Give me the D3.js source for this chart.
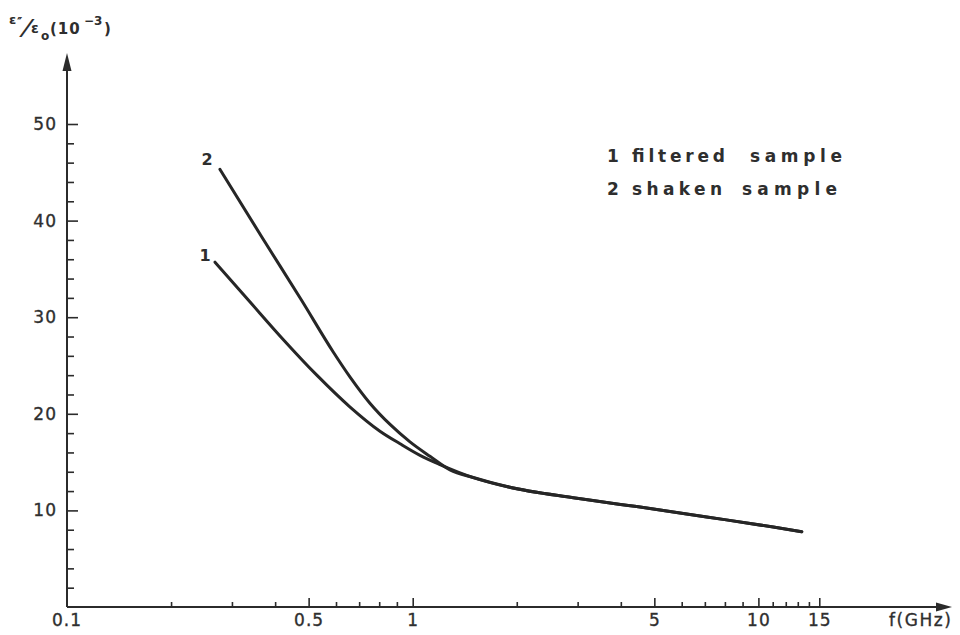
<!DOCTYPE html>
<html><head><meta charset="utf-8">
<script src="https://cdn.jsdelivr.net/npm/d3@7/dist/d3.min.js"></script>
<style>
body{margin:0;background:#fff}
text{font-family:"DejaVu Sans",Arial,Helvetica,sans-serif;fill:#2e2e2e}
</style>
</head><body>
<svg id="chart" width="960" height="635"></svg>
<script>
// ---- data ----
const freq1 = [0.268,0.338,0.422,0.528,0.659,0.804,0.919,1.050,1.199,1.497,1.870,2.914,4.546,7.087,11.04,13.35];
const eps1  = [35.7, 31.6, 27.7, 24.0, 20.7, 18.2, 16.9, 15.7, 14.75,13.4, 12.47,11.3, 10.35,9.32, 8.28, 7.8];
const freq2 = [0.277,0.366,0.478,0.589,0.659,0.752,0.860,0.982,1.122,1.282,1.497,1.870,2.914,4.546,7.087,11.04,13.35];
const eps2  = [45.3, 38.3, 31.7, 26.4, 23.8, 21.1, 18.9, 17.1, 15.6, 14.2, 13.4, 12.47,11.3, 10.35,9.32, 8.28, 7.8];
const seriesNames = ["1","2"];
const legendNumbers = ["1","2"];
const legendWords = [["filtered","sample"],["shaken","sample"]];
const xMajorTicks = [0.5,1,5,10,15];
const xMinorTicks = [0.2,0.3,0.4,0.6,0.7,0.8,0.9,2,3,4,6,7,8,9,11,12,13,14];
const xOriginLabel = "0.1";
const yMajorTicks = [10,20,30,40,50];
const yMinorTicks = [2,4,6,8,12,14,16,18,22,24,26,28,32,34,36,38,42,44,46,48];
const xTitle = "f(GHz)";

// ---- layout ----
const svg = d3.select("#chart");
const x = d3.scaleLog().domain([0.1, 10]).range([67, 758.4]);
const y = d3.scaleLinear().domain([0, 50]).range([607, 124]);
const ink = "#2b2b2b";
const x0 = x(0.1), y0 = y(0);

// axis lines with arrows
svg.append("line").attr("x1",x0).attr("x2",x0).attr("y1",y0).attr("y2",62)
  .attr("stroke",ink).attr("stroke-width",2);
svg.append("path").attr("d",`M${x0},53 L${x0-4.5},71 L${x0+4.5},71 Z`).attr("fill",ink);
svg.append("line").attr("x1",x0).attr("x2",944).attr("y1",y0).attr("y2",y0)
  .attr("stroke",ink).attr("stroke-width",2);
svg.append("path").attr("d",`M952,${y0} L936,${y0-4.5} L936,${y0+4.5} Z`).attr("fill",ink);

function styleLabels(sel){
  sel.attr("font-size",17).attr("letter-spacing",1)
    .attr("font-family","'DejaVu Sans',Arial,sans-serif")
    .attr("fill","#333").attr("stroke","#333").attr("stroke-width",0.35);
}

// y axis ticks
const gyMinor = svg.append("g").attr("transform",`translate(${x0},0)`)
  .call(d3.axisRight(y).tickValues(yMinorTicks).tickSize(7).tickFormat(""));
const gyMajor = svg.append("g").attr("transform",`translate(${x0},0)`)
  .call(d3.axisLeft(y).tickValues(yMajorTicks).tickSize(-11).tickPadding(10).tickFormat(d3.format("d")));
[gyMinor,gyMajor].forEach(g=>{
  g.select(".domain").remove();
  g.selectAll(".tick line").attr("stroke",ink).attr("stroke-width",1.6);
});
styleLabels(gyMajor.selectAll(".tick text"));

// x axis ticks
const gxMinor = svg.append("g").attr("transform",`translate(0,${y0})`)
  .call(d3.axisTop(x).tickValues(xMinorTicks).tickSize(5).tickFormat(""));
const gxMajor = svg.append("g").attr("transform",`translate(0,${y0})`)
  .call(d3.axisBottom(x).tickValues(xMajorTicks).tickSize(-9).tickPadding(7).tickFormat(d=>String(d)));
[gxMinor,gxMajor].forEach(g=>{
  g.select(".domain").remove();
  g.selectAll(".tick line").attr("stroke",ink).attr("stroke-width",1.6);
});
styleLabels(gxMajor.selectAll(".tick text"));
styleLabels(svg.append("text").attr("x",x0).attr("y",626).attr("text-anchor","middle").text(xOriginLabel));
styleLabels(svg.append("text").attr("x",889).attr("y",626).attr("textLength",63).attr("lengthAdjust","spacing").text(xTitle));

// y title  ε''/εo(10^-3)
const yt = svg.append("g").attr("font-weight","bold").attr("fill","#2e2e2e");
yt.append("text").attr("x",9).attr("y",24).attr("font-size",13).text("ε");
yt.append("text").attr("x",17).attr("y",27).attr("font-size",14).attr("letter-spacing",-2).text("′′");
yt.append("text").attr("transform","translate(20,35) skewX(-22)").attr("font-size",22).text("/");
yt.append("text").attr("x",31).attr("y",33).attr("font-size",14).text("ε");
yt.append("text").attr("x",41).attr("y",40).attr("font-size",12).text("o");
yt.append("text").attr("x",50).attr("y",34).attr("font-size",15).attr("letter-spacing",1).text("(10");
yt.append("text").attr("x",84).attr("y",25).attr("font-size",12).text("−3");
yt.append("text").attr("x",104).attr("y",34).attr("font-size",15).text(")");

// curves
const line = d3.line().x(d=>x(d[0])).y(d=>y(d[1])).curve(d3.curveMonotoneX);
const data1 = freq1.map((f,i)=>[f,eps1[i]]);
const data2 = freq2.map((f,i)=>[f,eps2[i]]);
[data1,data2].forEach(d=>{
  svg.append("path").datum(d).attr("d",line).attr("fill","none")
    .attr("stroke","#262626").attr("stroke-width",3).attr("stroke-linecap","round");
});

// curve labels
svg.append("text").attr("x",x(freq1[0])-10).attr("y",y(eps1[0])-1).attr("text-anchor","middle")
  .attr("font-size",16).attr("font-weight","bold").text(seriesNames[0]);
svg.append("text").attr("x",x(freq2[0])-13).attr("y",y(eps2[0])-4).attr("text-anchor","middle")
  .attr("font-size",16).attr("font-weight","bold").text(seriesNames[1]);

// legend
const legendRows = [
  {yb:162, words:[{x:607,w:7},{x:632,w:93},{x:750,w:92}]},
  {yb:195, words:[{x:607,w:8},{x:632,w:90},{x:742,w:95}]}
];
legendRows.forEach((r,i)=>{
  const items = [legendNumbers[i]].concat(legendWords[i]);
  items.forEach((t,j)=>{
    const tx = svg.append("text").attr("x",r.words[j].x).attr("y",r.yb)
      .attr("font-size",17).attr("font-weight","bold").text(t);
    if (t.length>1) tx.attr("textLength",r.words[j].w).attr("lengthAdjust","spacing");
  });
});
</script>
</body></html>
